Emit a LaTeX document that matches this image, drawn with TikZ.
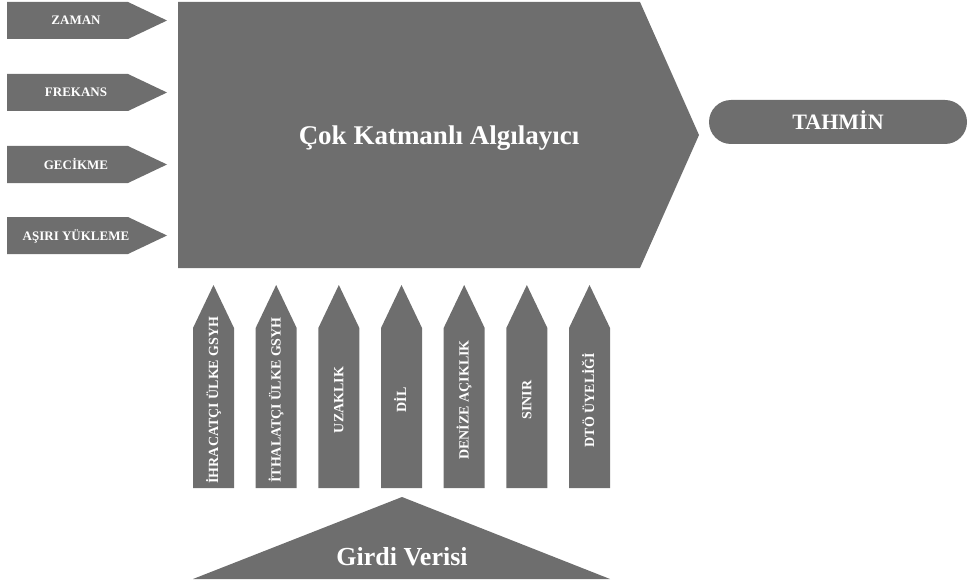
\documentclass[tikz,border=0pt]{standalone}
\usepackage{fontspec}
\setmainfont{Liberation Serif}

\definecolor{boxgray}{RGB}{110,110,110}
\tikzset{
  inlabel/.style={text=white,anchor=base,font=\bfseries\fontsize{13}{13}\selectfont},
  featlabel/.style={text=white,anchor=base,rotate=90,font=\bfseries\fontsize{14}{14}\selectfont},
  biglabel/.style={text=white,anchor=base,font=\bfseries\fontsize{27}{27}\selectfont},
  outlabel/.style={text=white,anchor=base,font=\bfseries\fontsize{22}{22}\selectfont},
}

\begin{document}
\begin{tikzpicture}[x=1pt,y=-1pt]
         \useasboundingbox (0,0) rectangle (968,580) ;
         % inputs on the left
         \foreach \y/\txt [count=\i] in {2/ZAMAN,74/FREKANS,146/GECİKME,217/AŞIRI YÜKLEME}
         {
           \fill[boxgray] (7,\y) -- (128,\y) -- (167,\y+18.5) -- (128,\y+37) -- (7,\y+37) -- cycle ;
           \node[inlabel] (in\i) at (76,\y+23) {\txt} ;
         }
         % main block
         \fill[boxgray] (178,2) -- (640,2) -- (699,135) -- (640,268) -- (178,268) -- cycle ;
         \node[biglabel] (mlp) at (439,145) {Çok Katmanlı Algılayıcı} ;
         % output
         \fill[boxgray,rounded corners=22pt] (709,100) rectangle (967,144) ;
         \node[outlabel] (out) at (838,130) {TAHMİN} ;
         % features from below
         \foreach \txt [count=\i] in {İHRACATÇI ÜLKE GSYH,İTHALATÇI ÜLKE GSYH,UZAKLIK,DİL,DENİZE AÇIKLIK,SINIR,DTÖ ÜYELİĞİ}
         {
           \pgfmathsetmacro\x{193+62.67*(\i-1)}
           \fill[boxgray] (\x,488) -- (\x,328) -- (\x+20.5,285) -- (\x+41,328) -- (\x+41,488) -- cycle ;
           \node[featlabel] (f\i) at (\x+25,400) {\txt} ;
         }
         % data
         \fill[boxgray] (193,579) -- (402,497) -- (610,579) -- cycle ;
         \node[biglabel,font=\bfseries\fontsize{26}{26}\selectfont] (data) at (402,565) {Girdi Verisi} ;
      \end{tikzpicture}
\end{document}
